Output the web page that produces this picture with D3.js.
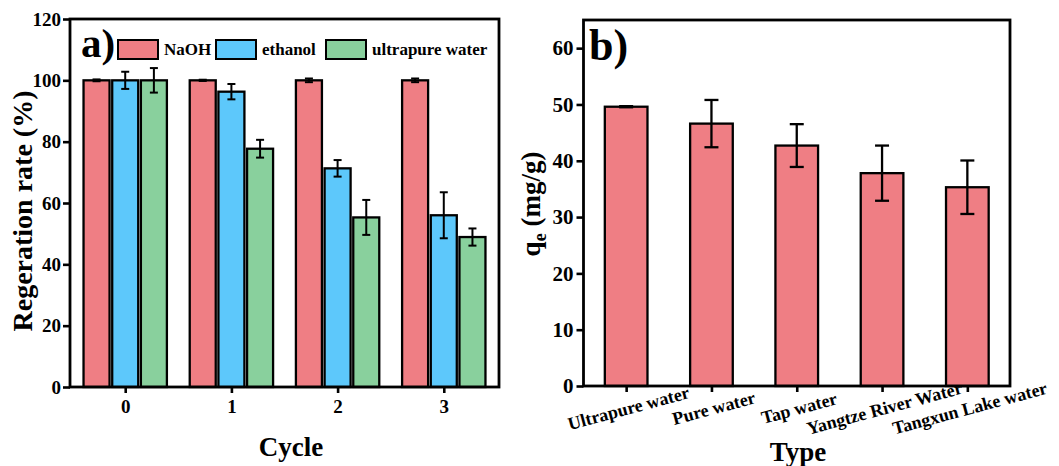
<!DOCTYPE html>
<html>
<head>
<meta charset="utf-8">
<script src="https://cdn.jsdelivr.net/npm/d3@7"></script>
<style>
  html, body { margin: 0; padding: 0; background: #fff; }
  svg { display: block; }
  text { font-family: "Liberation Serif", "Times New Roman", serif; font-weight: bold; fill: #000; }
</style>
</head>
<body>
<svg id="chart" width="1059" height="466"></svg>
<script>
// ---------- Data: panel a ----------
const cycles = [0, 1, 2, 3];
const seriesNames = ["NaOH", "ethanol", "ultrapure water"];
const naohValues = [100, 100, 100, 100];
const naohErrors = [0.3, 0.2, 0.6, 0.6];
const ethanolValues = [100, 96.3, 71.3, 56.0];
const ethanolErrors = [2.8, 2.5, 2.7, 7.5];
const waterValues = [100, 77.7, 55.3, 48.9];
const waterErrors = [4.0, 2.9, 5.7, 2.8];
const yTicksA = [0, 20, 40, 60, 80, 100, 120];
const seriesColors = ["#EF7E84", "#5DC8FB", "#89D09D"];

// ---------- Data: panel b ----------
const waterTypes = ["Ultrapure water", "Pure water", "Tap water", "Yangtze River Water", "Tangxun Lake water"];
const qeValues = [49.6, 46.6, 42.7, 37.8, 35.3];
const qeErrors = [0.1, 4.2, 3.8, 4.9, 4.75];
const yTicksB = [0, 10, 20, 30, 40, 50, 60];

const svg = d3.select("#chart");

// ================= Panel a =================
{
  const L = 70, R = 499, T = 19, B = 387;
  const x = d3.scaleLinear().domain([-0.52, 3.52]).range([L, R]);
  const y = d3.scaleLinear().domain([0, 120]).range([B, T]);
  const g = svg.append("g");
  const seriesVals = [naohValues, ethanolValues, waterValues];
  const seriesErr = [naohErrors, ethanolErrors, waterErrors];
  const offset = 0.27, bw = 0.245;

  seriesVals.forEach((vals, si) => {
    const off = (si - 1) * offset;
    g.selectAll(null).data(cycles).enter().append("rect")
      .attr("x", d => x(d + off - bw / 2))
      .attr("width", x(bw) - x(0))
      .attr("y", (d, i) => y(vals[i]))
      .attr("height", (d, i) => y(0) - y(vals[i]))
      .attr("fill", seriesColors[si])
      .attr("stroke", "#000").attr("stroke-width", 2.3);
  });
  // error bars
  seriesVals.forEach((vals, si) => {
    const off = (si - 1) * offset;
    const errs = seriesErr[si];
    const eg = g.selectAll(null).data(cycles).enter().append("g")
      .attr("stroke", "#000").attr("stroke-width", 2);
    eg.append("line")
      .attr("x1", d => x(d + off)).attr("x2", d => x(d + off))
      .attr("y1", (d, i) => y(vals[i] + errs[i])).attr("y2", (d, i) => y(vals[i] - errs[i]));
    eg.append("line")
      .attr("x1", d => x(d + off) - 4).attr("x2", d => x(d + off) + 4)
      .attr("y1", (d, i) => y(vals[i] + errs[i])).attr("y2", (d, i) => y(vals[i] + errs[i]));
    eg.append("line")
      .attr("x1", d => x(d + off) - 4).attr("x2", d => x(d + off) + 4)
      .attr("y1", (d, i) => y(vals[i] - errs[i])).attr("y2", (d, i) => y(vals[i] - errs[i]));
  });

  // frame
  g.append("rect").attr("x", L).attr("y", T).attr("width", R - L).attr("height", B - T)
    .attr("fill", "none").attr("stroke", "#000").attr("stroke-width", 2.8);

  // axes
  const ax = g.append("g").attr("transform", `translate(0,${B})`)
    .call(d3.axisBottom(x).tickValues(cycles).tickFormat(d3.format("d")).tickSizeInner(6).tickSizeOuter(0).tickPadding(7));
  const ay = g.append("g").attr("transform", `translate(${L},0)`)
    .call(d3.axisLeft(y).tickValues(yTicksA).tickSizeInner(7).tickSizeOuter(0).tickPadding(2));
  [ax, ay].forEach(a => {
    a.select(".domain").remove();
    a.selectAll(".tick line").attr("stroke", "#000").attr("stroke-width", 2.6);
    a.selectAll(".tick text").style("font-family", "Liberation Serif").style("font-weight", "bold")
      .style("font-size", "19px").attr("fill", "#000");
  });

  // titles
  g.append("text").attr("x", 291).attr("y", 456).attr("text-anchor", "middle")
    .style("font-size", "27px").text("Cycle");
  g.append("text").attr("transform", "translate(32,211) rotate(-90)").attr("text-anchor", "middle")
    .style("font-size", "28px").text("Regeration rate (%)");

  // panel label
  g.append("text").attr("x", 81).attr("y", 57).style("font-size", "41px").text("a)");

  // legend
  const legX = [118, 216, 326];
  seriesNames.forEach((n, i) => {
    g.append("rect").attr("x", legX[i]).attr("y", 40).attr("width", 40).attr("height", 19)
      .attr("fill", seriesColors[i]).attr("stroke", "#000").attr("stroke-width", 2);
    g.append("text").attr("x", legX[i] + 46).attr("y", 55).style("font-size", "17px").text(n);
  });
}

// ================= Panel b =================
{
  const L = 583.5, R = 1010, T = 20, B = 386;
  const idx = waterTypes.map((d, i) => i);
  const x = d3.scaleLinear().domain([-0.5, 4.5]).range([L, R]);
  const y = d3.scaleLinear().domain([0, 65]).range([B, T]);
  const g = svg.append("g");
  const bw = 0.5;

  g.selectAll(null).data(idx).enter().append("rect")
    .attr("x", d => x(d - bw / 2)).attr("width", x(bw) - x(0))
    .attr("y", d => y(qeValues[d])).attr("height", d => y(0) - y(qeValues[d]))
    .attr("fill", "#EF7E84").attr("stroke", "#000").attr("stroke-width", 2.3);

  const eg = g.selectAll(null).data(idx).enter().append("g")
    .attr("stroke", "#000").attr("stroke-width", 2.3);
  eg.append("line").attr("x1", d => x(d)).attr("x2", d => x(d))
    .attr("y1", d => y(qeValues[d] + qeErrors[d])).attr("y2", d => y(qeValues[d] - qeErrors[d]));
  eg.append("line").attr("x1", d => x(d) - 7).attr("x2", d => x(d) + 7)
    .attr("y1", d => y(qeValues[d] + qeErrors[d])).attr("y2", d => y(qeValues[d] + qeErrors[d]));
  eg.append("line").attr("x1", d => x(d) - 7).attr("x2", d => x(d) + 7)
    .attr("y1", d => y(qeValues[d] - qeErrors[d])).attr("y2", d => y(qeValues[d] - qeErrors[d]));

  g.append("rect").attr("x", L).attr("y", T).attr("width", R - L).attr("height", B - T)
    .attr("fill", "none").attr("stroke", "#000").attr("stroke-width", 2.8);

  const ax = g.append("g").attr("transform", `translate(0,${B})`)
    .call(d3.axisBottom(x).tickValues(idx).tickFormat("").tickSizeInner(6).tickSizeOuter(0));
  const ay = g.append("g").attr("transform", `translate(${L},0)`)
    .call(d3.axisLeft(y).tickValues(yTicksB).tickSizeInner(7).tickSizeOuter(0).tickPadding(3));
  [ax, ay].forEach(a => {
    a.select(".domain").remove();
    a.selectAll(".tick line").attr("stroke", "#000").attr("stroke-width", 2.6);
    a.selectAll(".tick text").style("font-family", "Liberation Serif").style("font-weight", "bold")
      .style("font-size", "21px").attr("fill", "#000");
  });

  // rotated category labels
  g.selectAll(null).data(idx).enter().append("text")
    .attr("transform", d => `translate(${x(d) + 4},${414}) rotate(-15)`)
    .attr("text-anchor", "middle").style("font-size", "18px")
    .text(d => waterTypes[d]);

  g.append("text").attr("x", 798).attr("y", 461).attr("text-anchor", "middle")
    .style("font-size", "27px").text("Type");

  const yt = g.append("text").attr("transform", "translate(540,204) rotate(-90)")
    .attr("text-anchor", "middle").style("font-size", "27px");
  yt.append("tspan").text("q");
  yt.append("tspan").attr("dy", 6).style("font-size", "18px").text("e");
  yt.append("tspan").attr("dy", -6).text(" (mg/g)");

  g.append("text").attr("x", 589).attr("y", 60).style("font-size", "44px").text("b)");
}
</script>
</body>
</html>
